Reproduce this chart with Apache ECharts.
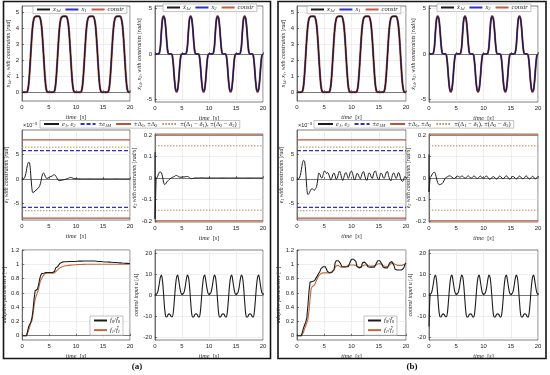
<!DOCTYPE html>
<html><head><meta charset="utf-8">
<script src="https://cdn.jsdelivr.net/npm/echarts@6/dist/echarts.min.js"></script>
<style>html,body{margin:0;padding:0;background:#fff}#c{width:550px;height:375px}</style>
</head><body><div id="c"></div>
<script>
// ---------------- DATA (sampled every 0.2 s, t = 0 ... 20 s) ----------------
const T_STEP = 0.2;
const time = Array.from({length: 101}, (_, i) => Math.round(i * T_STEP * 10) / 10);
const xTicks = [0, 5, 10, 15, 20];

// position x1d / x1 [rad]
const x1Pos = [
 0,0,0,0,0, 0.05,0.4,1.2,2.3,3.4, 4.2,4.6,4.72,4.75,4.75, 4.75,4.75,4.6,4.2,3.4, 2.3,1.2,0.4,0.05,0,
 0,0,0,0,0, 0.05,0.4,1.2,2.3,3.4, 4.2,4.6,4.72,4.75,4.75, 4.75,4.75,4.6,4.2,3.4, 2.3,1.2,0.4,0.05,0,
 0,0,0,0,0, 0.05,0.4,1.2,2.3,3.4, 4.2,4.6,4.72,4.75,4.75, 4.75,4.75,4.6,4.2,3.4, 2.3,1.2,0.4,0.05,0,
 0,0,0,0,0, 0.05,0.4,1.2,2.3,3.4, 4.2,4.6,4.72,4.75,4.75, 4.75,4.75,4.6,4.2,3.4, 2.3,1.2,0.4,0.05,0,
 0];
// desired velocity [rad/s]
const x2dVel = [
 0,0,0,0,0.1, 0.8,2.6,3.9,4.2,3.9, 2.8,1.2,0.15,0,0, 0,-0.15,-1.2,-2.8,-3.9, -4.2,-3.9,-2.8,-1.2,-0.15,
 0,0,0,0,0.1, 0.8,2.6,3.9,4.2,3.9, 2.8,1.2,0.15,0,0, 0,-0.15,-1.2,-2.8,-3.9, -4.2,-3.9,-2.8,-1.2,-0.15,
 0,0,0,0,0.1, 0.8,2.6,3.9,4.2,3.9, 2.8,1.2,0.15,0,0, 0,-0.15,-1.2,-2.8,-3.9, -4.2,-3.9,-2.8,-1.2,-0.15,
 0,0,0,0,0.1, 0.8,2.6,3.9,4.2,3.9, 2.8,1.2,0.15,0,0, 0,-0.15,-1.2,-2.8,-3.9, -4.2,-3.9,-2.8,-1.2,-0.15,
 0];
// measured velocity x2 [rad/s]
const x2Vel = [
 0,0,0,0,0.1, 0.8,2.6,3.9,4.0,3.9, 2.8,1.2,0.15,0,0, 0,-0.15,-1.2,-2.8,-3.9, -4.0,-3.9,-2.8,-1.2,-0.15,
 0,0,0,0,0.1, 0.8,2.6,3.9,4.0,3.9, 2.8,1.2,0.15,0,0, 0,-0.15,-1.2,-2.8,-3.9, -4.0,-3.9,-2.8,-1.2,-0.15,
 0,0,0,0,0.1, 0.8,2.6,3.9,4.0,3.9, 2.8,1.2,0.15,0,0, 0,-0.15,-1.2,-2.8,-3.9, -4.0,-3.9,-2.8,-1.2,-0.15,
 0,0,0,0,0.1, 0.8,2.6,3.9,4.0,3.9, 2.8,1.2,0.15,0,0, 0,-0.15,-1.2,-2.8,-3.9, -4.0,-3.9,-2.8,-1.2,-0.15,
 0];

// tracking error e1 (x 1e-3 rad)
const e1A = [
 0,0,0.1,0.6,1.6, 2.8,3.4,3.3,1.2,-1.6, -2.8,-2.7,-2.5,-2.3,-2.1, -1.9,-1.6,-1.0,0.0,1.0,
 1.2,0.8,0.3,0.1,0.15, 0.3,0.45,0.5,0.6,0.8, 0.85,0.7,0.3,-0.1,-0.35, -0.35,-0.3,-0.25,-0.2,-0.15,
 -0.1,0,0.05,0.15,0.25, 0.3,0.25,0.15,0.08,0.05, 0.03,0.02,0.02,0.02,0.01, 0.01,0.01,0.01,0,0,
 0,0,0,0,0, 0,0,0,0,0, 0,0,0,0,0, 0,0,0,0,0,
 0,0,0,0,0, 0,0,0,0,0, 0,0,0,0,0, 0,0,0,0,0,
 0];
const e1B = [
 0,0,0.1,0.7,1.9, 3.2,3.8,3.6,1.4,-1.8, -3.2,-3.0,-2.5,-2.1,-2.0, -2.2,-2.3,-2.0,-1.6,-0.2,
 1.2,1.0,0.3,0.2,0.9, 1.6,1.5,1.1,1.3,1.0, 0.3,-0.2,0.2,1.0,1.2, 0.6,-0.1,0.2,1.1,1.6,
 1.1,0.2,-0.3,0.3,1.1, 1.3,0.7,0.1,0.6,1.4, 1.6,1.1,0.2,-0.2,0.4, 1.1,1.0,0.4,0.0,0.5,
 1.3,1.5,0.8,0.0,-0.3, 0.4,1.2,1.1,0.4,0.1, 0.8,1.5,1.6,0.9,0.1, -0.2,0.5,1.2,1.0,0.3,
 0.1,0.7,1.4,1.5,0.7, -0.1,-0.4,0.3,1.1,1.2, 0.5,0.1,0.6,1.3,1.0, 0.1,-0.4,-0.5,0.0,0.5,
 0.2];
const e1Delta = 8;        // ±Δ1
const e1DeltaDelta = 6.5; // ±(Δ1-δ1)
const e1M = 5.8;          // ±e1M

// velocity error e2 [rad/s]
const e2A = [
 0,0,0.002,0.015,0.027, 0.028,0.024,0.005,-0.02,-0.031, -0.026,-0.018,-0.013,-0.008,-0.004, 0.0,0.003,0.005,0.007,0.011,
 0.012,0.009,0.005,0.004,0.004, 0.004,0.005,0.005,0.006,0.007, 0.007,0.005,0.001,-0.002,-0.003, -0.002,-0.001,0,0,0,
 0,0,0.001,0.001,0.001, 0.001,0,0,0,0, 0,0,0,0,0, 0,0,0,0,0,
 0,0,0,0,0, 0,0,0,0,0, 0,0,0,0,0, 0,0,0,0,0,
 0,0,0,0,0, 0,0,0,0,0, 0,0,0,0,0, 0,0,0,0,0,
 0];
const e2B = [
 0,0.002,0.008,0.018,0.025, 0.027,0.018,-0.005,-0.022,-0.03, -0.031,-0.029,-0.026,-0.02,-0.01, -0.002,0.004,0.006,0.009,0.01,
 0.008,0.004,0.0,-0.003,0.0, 0.006,0.009,0.007,0.004,0.005, 0.009,0.008,0.003,-0.002,0.001, 0.007,0.01,0.006,0.001,-0.001,
 0.004,0.009,0.008,0.002,-0.003, -0.001,0.005,0.009,0.006,0.0, -0.003,0.002,0.008,0.009,0.003, -0.004,-0.006,-0.002,0.004,0.007,
 0.004,-0.002,-0.005,-0.001,0.006, 0.009,0.005,-0.001,-0.004,0.0, 0.007,0.01,0.006,-0.002,-0.006, -0.003,0.004,0.008,0.005,-0.001,
 -0.005,-0.002,0.005,0.009,0.006, 0.0,-0.004,-0.002,0.005,0.01, 0.007,0.0,-0.005,-0.003,0.004, 0.008,0.005,-0.002,-0.004,0.003,
 0.008];
const e2SpikeA = [0.12, -0.19];   // initial transient at t = 0
const e2SpikeB = [0.11, -0.065];
const e2Delta = 0.2;
const e2DeltaDelta = 0.15;

// adaptive parameter ratios
const f0A = [
 0,0,0,0,0, 0.02,0.13,0.16,0.19,0.25, 0.36,0.52,0.63,0.645,0.65, 0.7,0.78,0.84,0.87,0.87,
 0.875,0.885,0.885,0.885,0.885, 0.885,0.885,0.885,0.885,0.885, 0.9,0.95,0.965,0.97,0.99, 1.015,1.025,1.03,1.035,1.035,
 1.035,1.035,1.038,1.04,1.04, 1.04,1.04,1.04,1.04,1.04, 1.04,1.042,1.042,1.044,1.044, 1.044,1.045,1.045,1.045,1.045,
 1.045,1.045,1.045,1.045,1.045, 1.045,1.045,1.045,1.044,1.043, 1.042,1.04,1.04,1.038,1.036, 1.035,1.034,1.033,1.032,1.031,
 1.03,1.03,1.029,1.028,1.027, 1.026,1.025,1.024,1.023,1.022, 1.02,1.02,1.018,1.017,1.016, 1.015,1.014,1.013,1.012,1.011,
 1.01];
const f1A = [
 0,0,0,0,0, 0,0.08,0.13,0.18,0.21, 0.3,0.42,0.51,0.56,0.6, 0.65,0.72,0.77,0.8,0.83,
 0.85,0.87,0.875,0.875,0.875, 0.875,0.875,0.875,0.875,0.875, 0.88,0.895,0.91,0.925,0.94, 0.95,0.96,0.965,0.97,0.975,
 0.978,0.98,0.983,0.985,0.987, 0.988,0.99,0.991,0.992,0.993, 0.994,0.995,0.996,0.997,0.998, 0.998,0.999,0.999,1,1,
 1,1,1,1,1, 1,1,1,1,1, 1,1,1,1,1, 1,1,1,1,1,
 1,1,1,1,1, 1,1,1,1,1, 1,1,1,1,1, 1,1,1,1,1,
 1];
const f0B = [
 0,0,0,0,0, 0.02,0.11,0.15,0.19,0.25, 0.42,0.62,0.75,0.76,0.76, 0.765,0.77,0.79,0.82,0.85,
 0.87,0.9,0.94,0.965,0.965, 0.965,0.965,0.96,0.9,0.88, 0.88,0.88,0.885,0.89,0.92, 1.02,1.05,1.05,1.05,1.05,
 1.01,0.97,0.965,0.965,0.965, 0.965,0.965,0.965,0.97,1.04, 1.07,1.07,1.07,1.07,1.04, 0.97,0.955,0.95,0.95,0.96,
 1.02,1.03,1.03,1.03,1.0, 0.965,0.96,0.96,0.96,0.96, 0.96,0.96,0.97,1.02,1.05, 1.05,1.05,1.05,1.0,0.96,
 0.955,0.95,0.95,0.95,0.96, 1.02,1.04,1.04,1.04,0.98, 0.93,0.92,0.92,0.92,0.92, 0.92,0.92,0.92,0.95,1.0,
 1.02];
const f1B = [
 0,0,0,0,0, 0,0.05,0.1,0.14,0.18, 0.23,0.35,0.52,0.66,0.69, 0.7,0.71,0.74,0.78,0.81,
 0.84,0.86,0.87,0.875,0.88, 0.88,0.88,0.88,0.88,0.88, 0.88,0.885,0.9,0.92,0.93, 0.95,0.98,0.99,0.985,0.965,
 0.96,0.96,0.96,0.96,0.96, 0.965,0.975,0.985,0.99,0.99, 0.99,0.99,0.99,0.99,0.985, 0.975,0.965,0.96,0.96,0.965,
 0.975,0.985,0.99,0.99,0.99, 0.985,0.98,0.975,0.975,0.975, 0.975,0.98,0.985,0.995,1.005, 1.01,1.01,1.0,0.99,0.98,
 0.975,0.97,0.97,0.97,0.975, 0.99,1.01,1.02,1.02,1.01, 1.0,0.99,0.985,0.985,0.985, 0.985,0.985,0.99,0.995,1.0,
 1.0];

// control input u [A]
const uA = [
 0,0.3,0.8,2.5,5.5, 8.5,9.5,6.5,0,-7, -10.3,-10.5,-9.5,-9.0,-9.4, -10.3,-10.4,-8.0,-2.0,4.5, 8.5,9.5,7.0,3.5,1.0,
 0.3,0.5,1.5,4.0,7.5, 9.5,8.5,4.0,-3.0,-9.0, -10.5,-10.3,-9.3,-9.0,-9.3, -10.3,-10.5,-8.0,-2.0,4.5, 8.5,9.5,7.0,3.5,1.0,
 0.3,0.5,1.5,4.0,7.5, 9.5,8.5,4.0,-3.0,-9.0, -10.5,-10.3,-9.3,-9.0,-9.3, -10.3,-10.5,-8.0,-2.0,4.5, 8.5,9.5,7.0,3.5,1.0,
 0.3,0.5,1.5,4.0,7.5, 9.5,8.5,4.0,-3.0,-9.0, -10.5,-10.3,-9.3,-9.0,-9.3, -10.3,-10.5,-8.0,-2.0,4.5, 8.5,9.5,7.0,3.5,1.0,
 0.2];
const uB = [
 -15,0.3,0.8,2.5,5.5, 8.5,9.5,6.5,0,-7, -10.3,-10.5,-9.5,-9.0,-9.4, -10.3,-10.4,-8.0,-2.0,4.5, 8.5,9.5,7.0,3.5,1.0,
 0.3,0.5,1.5,4.0,7.5, 9.5,8.5,4.0,-3.0,-9.0, -10.5,-10.3,-9.3,-9.0,-9.3, -10.3,-10.5,-8.0,-2.0,4.5, 8.5,9.5,7.0,3.5,1.0,
 0.3,0.5,1.5,4.0,7.5, 9.5,8.5,4.0,-3.0,-9.0, -10.5,-10.3,-9.3,-9.0,-9.3, -10.3,-10.5,-8.0,-2.0,4.5, 8.5,9.5,7.0,3.5,1.0,
 0.3,0.5,1.5,4.0,7.5, 9.5,8.5,4.0,-3.0,-9.0, -10.5,-10.3,-9.3,-9.0,-9.3, -10.3,-10.5,-8.0,-2.0,4.5, 8.5,9.5,7.0,3.5,1.0,
 0.2];

// tick labels
const ticksPos = [0, 1, 2, 3, 4, 5];
const ticksVel = [-5, 0, 5];
const ticksE1 = [-5, 0, 5];
const ticksE2 = [-0.2, -0.1, 0, 0.1, 0.2];
const ticksF = [0, 0.2, 0.4, 0.6, 0.8, 1, 1.2];
const ticksU = [-20, -10, 0, 10, 20];

// ---------------- STYLE ----------------
const SERIF = 'Liberation Serif', SANS = 'Liberation Sans';
const TXT = '#262626', AX = '#2a2a2a', GRIDC = '#e2e2e2';
const C_BLACK = '#1c1c1c', C_BLUE = '#2f2fd2', C_CONSTR = '#c45d42', C_DELTA = '#b5563b', C_DOT = '#b38d62', C_F1 = '#c2683f';

function rich(fs) {
  return {
    i: {fontFamily: SERIF, fontStyle: 'italic', fontSize: fs, color: TXT},
    r: {fontFamily: SERIF, fontSize: fs, color: TXT},
    s: {fontFamily: SERIF, fontStyle: 'italic', fontSize: fs * 0.7, color: TXT, padding: [fs * 0.5, 0, 0, 0]},
    u: {fontFamily: SERIF, fontSize: fs * 0.7, color: TXT, padding: [fs * 0.5, 0, 0, 0]}
  };
}

const option = {animation: false, backgroundColor: '#fff', grid: [], xAxis: [], yAxis: [], series: [], legend: [], graphic: []};

function addCell(box, yr, ticks, name, gap) {
  const gi = option.grid.length;
  option.grid.push({left: box[0], top: box[1], width: box[2] - box[0], height: box[3] - box[1], show: true,
    borderColor: AX, borderWidth: 0.6, backgroundColor: '#fff'});
  option.xAxis.push({gridIndex: gi, type: 'value', min: 0, max: 20, interval: 5,
    name: '{i|time} {r|[}{i|s}{r|]}', nameLocation: 'middle', nameGap: 9, nameTextStyle: {rich: rich(6.2)},
    axisLine: {lineStyle: {color: AX, width: 0.6}},
    axisTick: {inside: true, length: 2, lineStyle: {color: AX, width: 0.6}},
    axisLabel: {fontSize: 6, fontFamily: SANS, color: TXT, margin: 3},
    splitLine: {show: true, lineStyle: {color: GRIDC, width: 0.6}}});
  option.yAxis.push({gridIndex: gi, type: 'value', min: yr[0], max: yr[1],
    name: name, nameLocation: 'middle', nameGap: gap, nameTextStyle: {rich: rich(5.8)},
    axisLine: {show: true, lineStyle: {color: AX, width: 0.6}},
    axisTick: {show: true, inside: true, length: 2, customValues: ticks, lineStyle: {color: AX, width: 0.6}},
    axisLabel: {customValues: ticks, fontSize: 6, fontFamily: SANS, color: TXT, margin: 3, formatter: v => String(v)},
    splitLine: {show: true, lineStyle: {color: GRIDC, width: 0.6}}});
  return gi;
}
function curve(gi, name, vals, color, width, smooth) {
  option.series.push({type: 'line', name, xAxisIndex: gi, yAxisIndex: gi,
    data: vals.map((v, i) => [time[i], v]), showSymbol: false, symbol: 'none', smooth: smooth || false,
    lineStyle: {color, width}, itemStyle: {color}, silent: true});
}
function hline(gi, name, v, color, width, type) {
  option.series.push({type: 'line', name, xAxisIndex: gi, yAxisIndex: gi,
    data: [[xTicks[0], v], [xTicks[xTicks.length - 1], v]], showSymbol: false, symbol: 'none',
    lineStyle: {color, width, type}, itemStyle: {color}, silent: true});
}
function spike(gi, vals) {
  option.series.push({type: 'line', name: 'spike', xAxisIndex: gi, yAxisIndex: gi,
    data: [[time[0], vals[0]], [time[0], vals[1]], [time[1], 0]], showSymbol: false, symbol: 'none',
    lineStyle: {color: C_BLACK, width: 1}, silent: true});
}

const LBL = {
  x1d: '{i|x}{s|1d}', x1: '{i|x}{s|1}', constr: '{i|constr}',
  x2d: '{i|\u1E8B}{s|1d}', x2: '{i|x}{s|2}',
  e12: '{i|e}{s|1}{i|, e}{s|2}', e1M: '{r|\u00B1}{i|e}{s|1M}',
  dl: '{r|\u00B1\u0394}{u|1}{r|, \u00B1\u0394}{u|2}',
  dd: '{r|\u00B1(\u0394}{u|1}{r| \u2212 }{i|\u03B4}{u|1}{r|), \u00B1(\u0394}{u|2}{r| \u2212 }{i|\u03B4}{u|2}{r|)}',
  f0: '{i|f}{s|0}{r|/}{i|f\u0302}{s|0}', f1: '{i|f}{s|1}{r|/}{i|f\u0302}{s|1}'
};
function legend(left, top, data, o) {
  option.legend.push(Object.assign({left, top, data, selectedMode: false, backgroundColor: '#fff',
    borderColor: '#9a9a9a', borderWidth: 0.6, borderRadius: 0, padding: [0, 3, 0, 3], itemGap: 4,
    itemWidth: 13, itemHeight: 6, itemStyle: {opacity: 0, borderWidth: 0},
    formatter: n => LBL[n], textStyle: {rich: rich(6.5), padding: [0, 0, 0, -2]}}, o || {}));
}

const panels = [
  {cols: [[22, 130], [155, 263]], e1: e1A, e2: e2A, sp: e2SpikeA, f0: f0A, f1: f1A, u: uA},
  {cols: [[297, 406], [429, 538]], e1: e1B, e2: e2B, sp: e2SpikeB, f0: f0B, f1: f1B, u: uB}
];

panels.forEach((P, k) => {
  const [c1, c2] = P.cols;
  // row 1
  let g = addCell([c1[0], 6, c1[1], 101], [-0.55, 5.4], ticksPos,
    '{i|x}{s|1d}{i|, x}{s|1}{i|, with constraints }{r|[}{i|rad}{r|]}', 10);
  curve(g, 'constr', x1Pos, C_CONSTR, 2.2, 0.3);
  curve(g, 'x1', x1Pos, C_BLUE, 1.1, 0.3);
  curve(g, 'x1d', x1Pos, C_BLACK, 1.1, 0.3);
  g = addCell([c2[0], 6, c2[1], 102], [-5.3, 5.3], ticksVel,
    '{i|\u1E8B}{s|1d}{i|, x}{s|2}{i|, with constraints }{r|[}{i|rad/s}{r|]}', 10);
  curve(g, 'constr', x2dVel, C_CONSTR, 2.0, 0.3);
  curve(g, 'x2', x2Vel, C_BLUE, 1.4, 0.3);
  curve(g, 'x2d', x2dVel, C_BLACK, 1.0, 0.3);
  // row 2
  g = addCell([c1[0], 130, c1[1], 220], [-8.4, 10], ticksE1,
    '{i|e}{s|1}{i| with constraints }{r|[}{i|rad}{r|]}', 10);
  [1, -1].forEach(sg => {
    hline(g, 'dl', sg * e1Delta, C_DELTA, 1.2, 'solid');
    hline(g, 'dd', sg * e1DeltaDelta, C_DOT, 1, [1.5, 1.5]);
    hline(g, 'e1M', sg * e1M, C_BLUE, 1.2, [4, 2]);
  });
  curve(g, 'e12', P.e1, C_BLACK, 1.0, 0.3);
  g = addCell([c2[0], 134, c2[1], 222], [-0.205, 0.205], ticksE2,
    '{i|e}{s|2}{i| with constraints }{r|[}{i|rad/s}{r|]}', 9);
  [1, -1].forEach(sg => {
    hline(g, 'dl', sg * e2Delta, C_DELTA, 1.2, 'solid');
    hline(g, 'dd', sg * e2DeltaDelta, C_DOT, 1, [1.5, 1.5]);
  });
  spike(g, P.sp);
  curve(g, 'e12', P.e2, C_BLACK, 1.0, 0.3);
  // row 3
  g = addCell([c1[0], 250, c1[1], 340], [-0.06, 1.2], ticksF,
    '{i|adaptive parameters }{r|[\u2212]}', 12);
  curve(g, 'f1', P.f1, C_F1, 1.1);
  curve(g, 'f0', P.f0, C_BLACK, 1.1);
  g = addCell([c2[0], 250, c2[1], 340], [-21.5, 21.5], ticksU,
    '{i|control input u }{r|[}{i|A}{r|]}', 9);
  curve(g, 'u', P.u, C_BLACK, 1.1, 0.3);

  const dx = k === 0 ? 0 : 274;
  legend(33 + dx, 6, ['x1d', 'x1', 'constr']);
  legend(163 + dx, 4, ['x2d', 'x2', 'constr']);
  legend(40 + dx, 120.5, ['e12', 'e1M', 'dl', 'dd'], {itemWidth: 15});
  legend(90 + dx, 316, ['f0', 'f1'], {orient: 'vertical', itemWidth: 13, itemGap: 2, padding: [1, 3, 1, 3]});

  option.graphic.push({type: 'text', x: c1[0] + 1, y: 122,
    style: {text: '\u00D710{u|\u22123}', font: '5.5px "Liberation Sans"', fill: TXT,
      rich: {u: {fontSize: 4.2, fontFamily: SANS, padding: [0, 0, 3, 0]}}}, silent: true});
});

option.graphic.push(
  {type: 'rect', shape: {x: 3.5, y: 1.5, width: 267, height: 357}, style: {fill: 'none', stroke: '#161616', lineWidth: 1.6}, silent: true, z: 100},
  {type: 'rect', shape: {x: 278, y: 1.5, width: 268, height: 357}, style: {fill: 'none', stroke: '#161616', lineWidth: 1.6}, silent: true, z: 100},
  {type: 'text', x: 137, y: 367, style: {text: '(a)', font: 'bold 9px "Liberation Serif"', fill: '#111', align: 'center', verticalAlign: 'middle'}, silent: true},
  {type: 'text', x: 412, y: 367, style: {text: '(b)', font: 'bold 9px "Liberation Serif"', fill: '#111', align: 'center', verticalAlign: 'middle'}, silent: true}
);

const chart = echarts.init(document.getElementById('c'), null, {renderer: 'canvas'});
chart.setOption(option);
</script></body></html>
